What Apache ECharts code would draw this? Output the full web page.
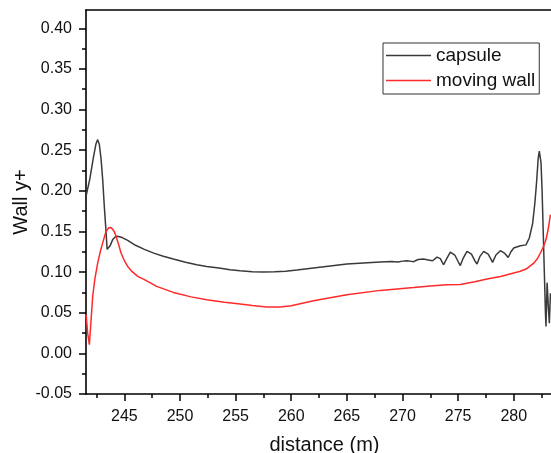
<!DOCTYPE html>
<html>
<head>
<meta charset="utf-8">
<script src="https://cdn.jsdelivr.net/npm/echarts@6/dist/echarts.min.js"></script>
<style>
html,body{margin:0;padding:0;background:#fff;}
#c{width:551px;height:453px;}
</style>
</head>
<body>
<div id="c"></div>
<script>
var capsuleX = [241.58,241.9,242.2,242.45,242.6,242.75,242.9,243.05,243.2,243.35,243.45,243.55,243.7,243.95,244.2,244.4,244.8,245.3,246.0,246.8,247.7,248.5,249.4,250.5,251.5,252.4,253.5,254.5,255.4,256.5,257.5,258.5,259.5,260.5,262.0,263.5,265.0,266.5,268.0,269.0,269.6,270.0,270.4,270.8,271.0,271.4,271.9,272.3,272.7,273.1,273.4,273.7,273.95,274.3,274.7,275.0,275.2,275.45,275.8,276.2,276.5,276.7,276.95,277.3,277.7,277.95,278.1,278.4,278.8,279.2,279.5,279.75,280.0,280.6,281.1,281.4,281.7,281.9,282.05,282.2,282.3,282.45,282.55,282.65,282.75,282.85,282.9,283.0,283.1,283.2,283.3];
var capsuleY = [0.195,0.215,0.240,0.258,0.263,0.257,0.240,0.214,0.180,0.150,0.128,0.126,0.132,0.140,0.1435,0.144,0.1425,0.139,0.133,0.128,0.123,0.1195,0.116,0.112,0.109,0.107,0.105,0.103,0.1018,0.1005,0.100,0.1003,0.101,0.1025,0.105,0.1075,0.110,0.1112,0.1124,0.1130,0.1125,0.1135,0.114,0.1132,0.1128,0.1155,0.116,0.115,0.114,0.1185,0.1165,0.109,0.116,0.1247,0.121,0.113,0.108,0.117,0.1255,0.122,0.114,0.110,0.119,0.1255,0.122,0.116,0.112,0.121,0.1263,0.123,0.118,0.125,0.1296,0.1325,0.1335,0.142,0.160,0.185,0.210,0.240,0.249,0.235,0.200,0.150,0.100,0.050,0.033,0.087,0.060,0.037,0.074];
var wallX = [241.56,241.7,241.85,242.0,242.15,242.35,242.6,242.85,243.05,243.35,243.6,243.8,244.05,244.25,244.5,244.7,245.0,245.3,245.7,246.2,246.8,247.9,249.4,251.0,252.4,254.0,255.4,256.5,257.8,259.0,260.0,262.0,265.0,268.0,271.0,272.5,274.0,275.2,276.5,277.6,278.8,280.0,280.6,281.2,281.8,282.1,282.4,282.7,282.9,283.1,283.3];
var wallY = [0.0476,0.025,0.0107,0.040,0.070,0.092,0.111,0.126,0.136,0.150,0.1545,0.155,0.151,0.144,0.133,0.1235,0.114,0.107,0.1005,0.0947,0.0907,0.0824,0.075,0.0695,0.066,0.063,0.0607,0.0588,0.057,0.057,0.0587,0.0648,0.072,0.0775,0.081,0.083,0.0845,0.0848,0.088,0.0915,0.0947,0.099,0.101,0.1045,0.111,0.116,0.1235,0.132,0.140,0.153,0.1706];
var seriesNames = ['capsule','moving wall'];
var xMajor = [245,250,255,260,265,270,275,280];
var xMinor = [242.5,247.5,252.5,257.5,262.5,267.5,272.5,277.5,282.5];
var yMajor = [-0.05,0,0.05,0.10,0.15,0.20,0.25,0.30,0.35,0.40];
var yMinor = [-0.025,0.025,0.075,0.125,0.175,0.225,0.275,0.325,0.375];
var xName = 'distance (m)';
var yName = 'Wall y+';

var XMIN = 241.55, XMAX = 283.35, YMIN = -0.05, YMAX = 0.4225;
function pairs(xs, ys){ return xs.map(function(x,i){ return [x, ys[i]]; }); }

var FONT = 'Liberation Sans, Arial, sans-serif';
var gridRect = {left:86, right:0, top:10, bottom:59, containLabel:false, outerBoundsMode:'none'};
var chart = echarts.init(document.getElementById('c'), null, {renderer:'canvas'});
chart.setOption({
  animation:false,
  backgroundColor:'#fff',
  textStyle:{fontFamily:FONT},
  grid:[
    Object.assign({}, gridRect),
    Object.assign({}, gridRect)
  ],
  legend:{
    orient:'vertical', left:383, top:43,
    data:seriesNames.map(function(n){ return {name:n, icon:'rect'}; }),
    itemWidth:45, itemHeight:1.5, itemGap:6,
    padding:[3,4,4,3],
    borderColor:'#333', borderWidth:1, backgroundColor:'#fff',
    textStyle:{fontSize:19, color:'#111', fontFamily:FONT}
  },
  xAxis:[
    {type:'value', gridIndex:0, position:'bottom', min:XMIN, max:XMAX,
     name:xName, nameLocation:'middle', nameGap:41, nameMoveOverlap:false,
     nameTextStyle:{fontSize:20, color:'#111', fontFamily:FONT, padding:[0,0,0,12]},
     axisLine:{show:true, onZero:false, lineStyle:{color:'#000', width:1.6}},
     axisTick:{show:true, inside:false, length:7, customValues:xMajor, lineStyle:{color:'#000', width:1.5}},
     axisLabel:{show:true, margin:15, fontSize:16, color:'#111', fontFamily:FONT, customValues:xMajor,
       formatter:function(v){return String(Math.round(v));}},
     splitLine:{show:false}},
    {type:'value', gridIndex:1, position:'bottom', min:XMIN, max:XMAX,
     axisLine:{show:false, onZero:false},
     axisTick:{show:true, inside:false, length:4, customValues:xMinor, lineStyle:{color:'#000', width:1.5}},
     axisLabel:{show:false}, splitLine:{show:false}},
    {type:'value', gridIndex:1, position:'top', min:XMIN, max:XMAX,
     axisLine:{show:true, onZero:false, lineStyle:{color:'#000', width:1.6}},
     axisTick:{show:false}, axisLabel:{show:false}, splitLine:{show:false}}
  ],
  yAxis:[
    {type:'value', gridIndex:0, position:'left', min:YMIN, max:YMAX,
     name:yName, nameLocation:'middle', nameGap:55, nameRotate:90, nameMoveOverlap:false,
     nameTextStyle:{fontSize:20, color:'#111', fontFamily:FONT},
     axisLine:{show:true, onZero:false, lineStyle:{color:'#000', width:1.6}},
     axisTick:{show:true, inside:false, length:7, customValues:yMajor, lineStyle:{color:'#000', width:1.5}},
     axisLabel:{show:true, margin:14, fontSize:16, color:'#111', fontFamily:FONT, customValues:yMajor,
       formatter:function(v){return (Math.abs(v)<1e-9?0:v).toFixed(2);}},
     splitLine:{show:false}},
    {type:'value', gridIndex:1, position:'left', min:YMIN, max:YMAX,
     axisLine:{show:false, onZero:false},
     axisTick:{show:true, inside:false, length:4, customValues:yMinor, lineStyle:{color:'#000', width:1.5}},
     axisLabel:{show:false}, splitLine:{show:false}}
  ],
  series:[
    {name:seriesNames[0], type:'line', xAxisIndex:0, yAxisIndex:0, symbol:'none', clip:true,
     lineStyle:{color:'#3a3a3a', width:1.5}, itemStyle:{color:'#3a3a3a'},
     data:pairs(capsuleX, capsuleY)},
    {name:seriesNames[1], type:'line', xAxisIndex:0, yAxisIndex:0, symbol:'none', clip:true,
     lineStyle:{color:'#ff2a2a', width:1.5}, itemStyle:{color:'#ff2a2a'},
     data:pairs(wallX, wallY)}
  ]
});
</script>
</body>
</html>
